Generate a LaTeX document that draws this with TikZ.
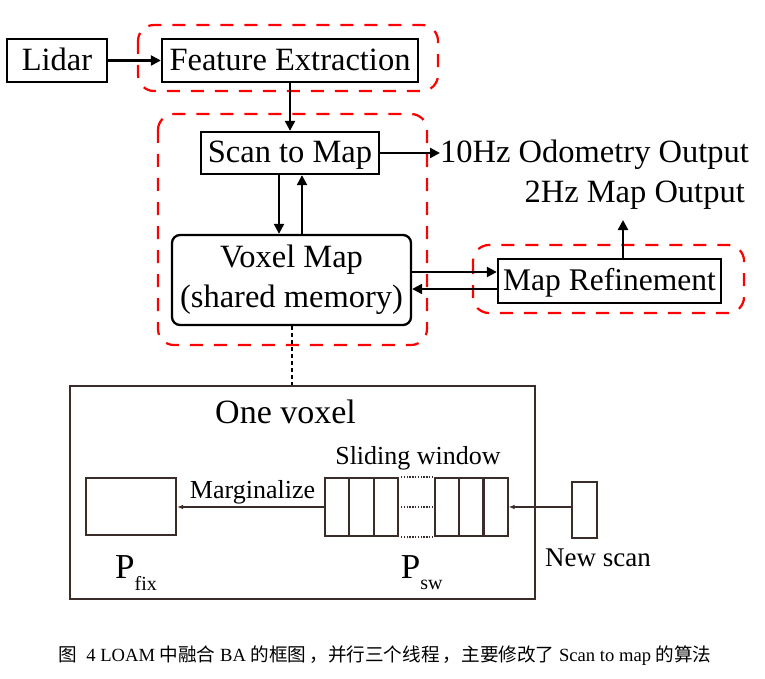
\documentclass[tikz,border=0pt]{standalone}
\usepackage{fontspec}
\setmainfont{Liberation Serif}
\newfontfamily\cjk{Noto Sans CJK SC}
\usetikzlibrary{arrows.meta}
\definecolor{bline}{RGB}{58,44,40}
\begin{document}
\begin{tikzpicture}[x=1pt,y=-1pt,
  boxbase/.style={draw=black,line width=2.3pt,inner sep=0pt,font=\fontsize{32.5}{36}\selectfont},
  box/.style={boxbase,text height=22pt,text depth=2.5pt},
  grp/.style={draw=red,line width=2.2pt,dash pattern=on 13pt off 11pt,rounded corners=16pt},
  arr/.style={line width=2.2pt,-{Triangle[length=10pt,width=10pt]}},
  lbl/.style={inner sep=0pt,font=\fontsize{32.5}{36}\selectfont},
  cell/.style={draw=bline,line width=2pt,inner sep=0pt,minimum width=24.4pt,minimum height=58pt},
  tarr/.style={draw=bline,line width=1.2pt,-{Latex[length=6pt,width=4.5pt]}},
  small/.style={inner sep=0pt,font=\fontsize{26}{30}\selectfont},
  dotl/.style={draw=bline,line width=1.8pt,dash pattern=on 1.4pt off 1.4pt},
]
\useasboundingbox (0,0) rectangle (765,679);

% top part
\node[box,minimum width=100pt,minimum height=43pt] (lidar) at (57,60.5) {Lidar};
\node[box,minimum width=256pt,minimum height=43pt] (fe) at (290,60.5) {Feature Extraction};
\node[box,minimum width=178pt,minimum height=42pt] (stm) at (290,153) {Scan to Map};
\node[boxbase,rounded corners=8pt,minimum width=239pt,minimum height=90pt,align=center,
      font=\fontsize{32.5}{40}\selectfont] (vm) at (291.5,280) {Voxel Map\\(shared memory)};
\node[box,minimum width=223pt,minimum height=44pt,font=\fontsize{31.5}{36}\selectfont] (mr) at (609.5,281) {Map Refinement};
\node[lbl,anchor=base west] (odo) at (440,163) {10Hz Odometry Output};
\node[lbl,anchor=base east] (mapout) at (745,203) {2Hz Map Output};
\coordinate (mo) at (623,220);

\draw[grp] (138,25) rectangle (438,91);
\draw[grp] (158,114) rectangle (427,345);
\draw[grp] (473,245) rectangle (744,313);

\draw[arr] (lidar.east) -- (fe.west);
\draw[arr] (fe.south) -- (stm.north);
\draw[arr] ([xshift=-11pt]stm.south) -- ([xshift=-11pt]stm.south |- vm.north);
\draw[arr] ([xshift=12pt]stm.south |- vm.north) -- ([xshift=12pt]stm.south);
\draw[arr] (stm.east) -- (stm.east -| odo.west);
\draw[arr] (vm.east |- 0,272) -- (mr.west |- 0,272);
\draw[arr] (mr.west |- 0,289) -- (vm.east |- 0,289);
\draw[arr] (mo |- mr.north) -- (mo);

% bottom part
\node[draw=bline,line width=2.3pt,inner sep=0pt,minimum width=465pt,minimum height=213pt] (ov) at (302.5,492.5) {};
\draw[line width=2pt,dash pattern=on 4pt off 3pt] (vm.south) -- (vm.south |- ov.north);
\node[anchor=west,inner sep=0pt,font=\fontsize{34}{40}\selectfont] (ovl) at (215,412) {One voxel};

\node[draw=bline,line width=2pt,inner sep=0pt,minimum width=90pt,minimum height=57pt] (pf) at (131,506.5) {};
\node[cell] (l1) at (337.2,507) {};
\node[cell] (l2) at (361.4,507) {};
\node[cell] (l3) at (385.8,507) {};
\node[cell] (r1) at (447.2,507) {};
\node[cell] (r2) at (471.3,507) {};
\node[cell] (r3) at (495.3,507) {};
\draw[dotl] ([xshift=2pt]l3.north east) -- ([xshift=-2pt]r1.north west);
\draw[dotl] ([xshift=2pt]l3.east) -- ([xshift=-2pt]r1.west);
\draw[dotl] ([xshift=2pt]l3.south east) -- ([xshift=-2pt]r1.south west);
\node[draw=bline,line width=2pt,inner sep=0pt,minimum width=24.4pt,minimum height=56pt] (ns) at (584.5,510) {};

\draw[tarr] (ns.west |- r3.east) -- (r3.east);
\draw[tarr] (l1.west) -- (l1.west -| pf.east);

\node[small] (marg) at (252.5,492) {Marginalize};
\node[small] (swl) at (418,458) {Sliding window};
\node[small,font=\fontsize{27}{30}\selectfont] (nsl) at (598,558) {New scan};
\node[anchor=base west,inner sep=0pt,font=\fontsize{35}{40}\selectfont] (pfix) at (115,578)
  {P\raisebox{-12pt}{\fontsize{20}{20}\selectfont fix}};
\node[anchor=base west,inner sep=0pt,font=\fontsize{35}{40}\selectfont] (psw) at (400.7,578)
  {P\raisebox{-11pt}{\fontsize{20}{20}\selectfont sw}};

% caption
\node[inner sep=0pt,font=\fontsize{18.6}{20}\selectfont] (cap) at (385,656)
  {{\cjk 图}\enspace 4 LOAM {\cjk 中融合} BA {\cjk 的框图\,，并行三个线程\,，主要修改了} Scan to map {\cjk 的算法}};
\end{tikzpicture}
\end{document}
